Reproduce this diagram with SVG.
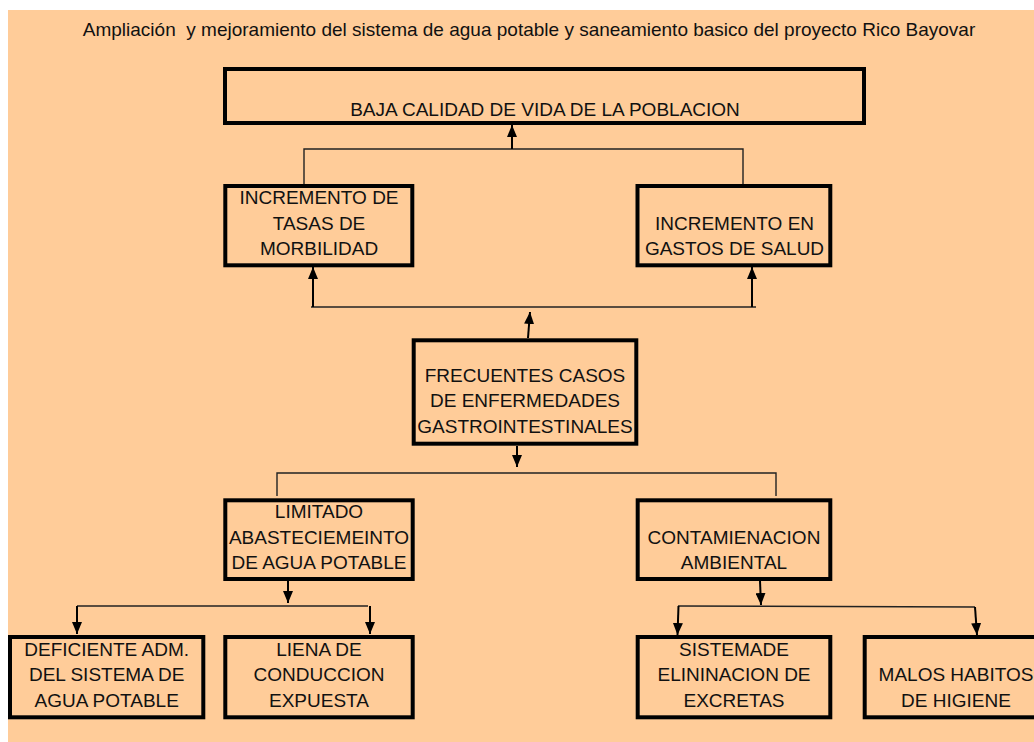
<svg xmlns="http://www.w3.org/2000/svg" width="1034" height="742" viewBox="0 0 1034 742">
<style>
.bg{fill:#FFCC99}
.box{fill:none;stroke:#000;stroke-width:4}
.t{font-family:"Liberation Sans",Arial,sans-serif;font-size:19px;fill:#111;text-anchor:middle}
.ln{fill:none;stroke:#222;stroke-width:1.4}
.ar{fill:none;stroke:#000;stroke-width:2;marker-end:url(#ah)}
</style>
<defs>
<marker id="ah" markerUnits="userSpaceOnUse" markerWidth="12" markerHeight="10" refX="12" refY="5" orient="auto">
<path d="M0,0 L12,5 L0,10 z" fill="#000"/>
</marker>
</defs>
<rect class="bg" x="8" y="10" width="1026" height="732"/>
<text class="t" x="529" y="36" xml:space="preserve">Ampliación  y mejoramiento del sistema de agua potable y saneamiento basico del proyecto Rico Bayovar</text>

<g id="connectors">
<path class="ln" d="M304,184 V149 H743 V184"/>
<path class="ar" d="M512,149 V125"/>
<path class="ln" d="M311,307 H756"/>
<path class="ar" d="M313,307 V267"/>
<path class="ar" d="M752,307 V267"/>
<path class="ar" d="M528,338 L530,312"/>
<path class="ar" d="M517,446 V467"/>
<path class="ln" d="M277,496 V473 H776 V496"/>
<path class="ar" d="M288,581 V603"/>
<path class="ln" d="M77,606 H368"/>
<path class="ar" d="M77,606 V634"/>
<path class="ar" d="M370,606 V634"/>
<path class="ar" d="M760,581 L761,605"/>
<path class="ln" d="M678,606 L975,607"/>
<path class="ar" d="M678.5,606 L677.5,635"/>
<path class="ar" d="M975,607 L977,635"/>
</g>

<g id="baja">
<rect class="box" x="225" y="69" width="639" height="54"/>
<text class="t" x="545" y="116">BAJA CALIDAD DE VIDA DE LA POBLACION</text>
</g>
<g id="tasas">
<rect class="box" x="225.3" y="186" width="187" height="79.3"/>
<text class="t" x="319" y="204">INCREMENTO DE</text>
<text class="t" x="319" y="230">TASAS DE</text>
<text class="t" x="319" y="255">MORBILIDAD</text>
</g>
<g id="gastos">
<rect class="box" x="637.5" y="186" width="192.8" height="79.3"/>
<text class="t" x="734.5" y="230">INCREMENTO EN</text>
<text class="t" x="734.5" y="255">GASTOS DE SALUD</text>
</g>
<g id="frecuentes">
<rect class="box" x="413.7" y="340.3" width="222.6" height="103.4"/>
<text class="t" x="525" y="381.7">FRECUENTES CASOS</text>
<text class="t" x="525" y="406.7">DE ENFERMEDADES</text>
<text class="t" x="525" y="432.7">GASTROINTESTINALES</text>
</g>
<g id="limitado">
<rect class="box" x="225.3" y="500.3" width="187.4" height="78.7"/>
<text class="t" x="319" y="517.7">LIMITADO</text>
<text class="t" x="319" y="544">ABASTECIEMEINTO</text>
<text class="t" x="319" y="569.3">DE AGUA POTABLE</text>
</g>
<g id="contaminacion">
<rect class="box" x="637.7" y="500.3" width="192.6" height="78.7"/>
<text class="t" x="734" y="544">CONTAMIENACION</text>
<text class="t" x="734" y="569.3">AMBIENTAL</text>
</g>
<g id="deficiente">
<rect class="box" x="10" y="637" width="193.3" height="80.3"/>
<text class="t" x="106.7" y="656">DEFICIENTE ADM.</text>
<text class="t" x="106.7" y="681">DEL SISTEMA DE</text>
<text class="t" x="106.7" y="706.7">AGUA POTABLE</text>
</g>
<g id="liena">
<rect class="box" x="225.3" y="637" width="187.4" height="80.3"/>
<text class="t" x="319" y="656">LIENA DE</text>
<text class="t" x="319" y="681">CONDUCCION</text>
<text class="t" x="319" y="706.7">EXPUESTA</text>
</g>
<g id="sistema">
<rect class="box" x="637.7" y="637" width="192.6" height="80.3"/>
<text class="t" x="734" y="656">SISTEMADE</text>
<text class="t" x="734" y="681">ELININACION DE</text>
<text class="t" x="734" y="706.7">EXCRETAS</text>
</g>
<g id="malos">
<rect class="box" x="864.7" y="637" width="185" height="80.3"/>
<text class="t" x="956" y="681">MALOS HABITOS</text>
<text class="t" x="956" y="706.7">DE HIGIENE</text>
</g>
</svg>
